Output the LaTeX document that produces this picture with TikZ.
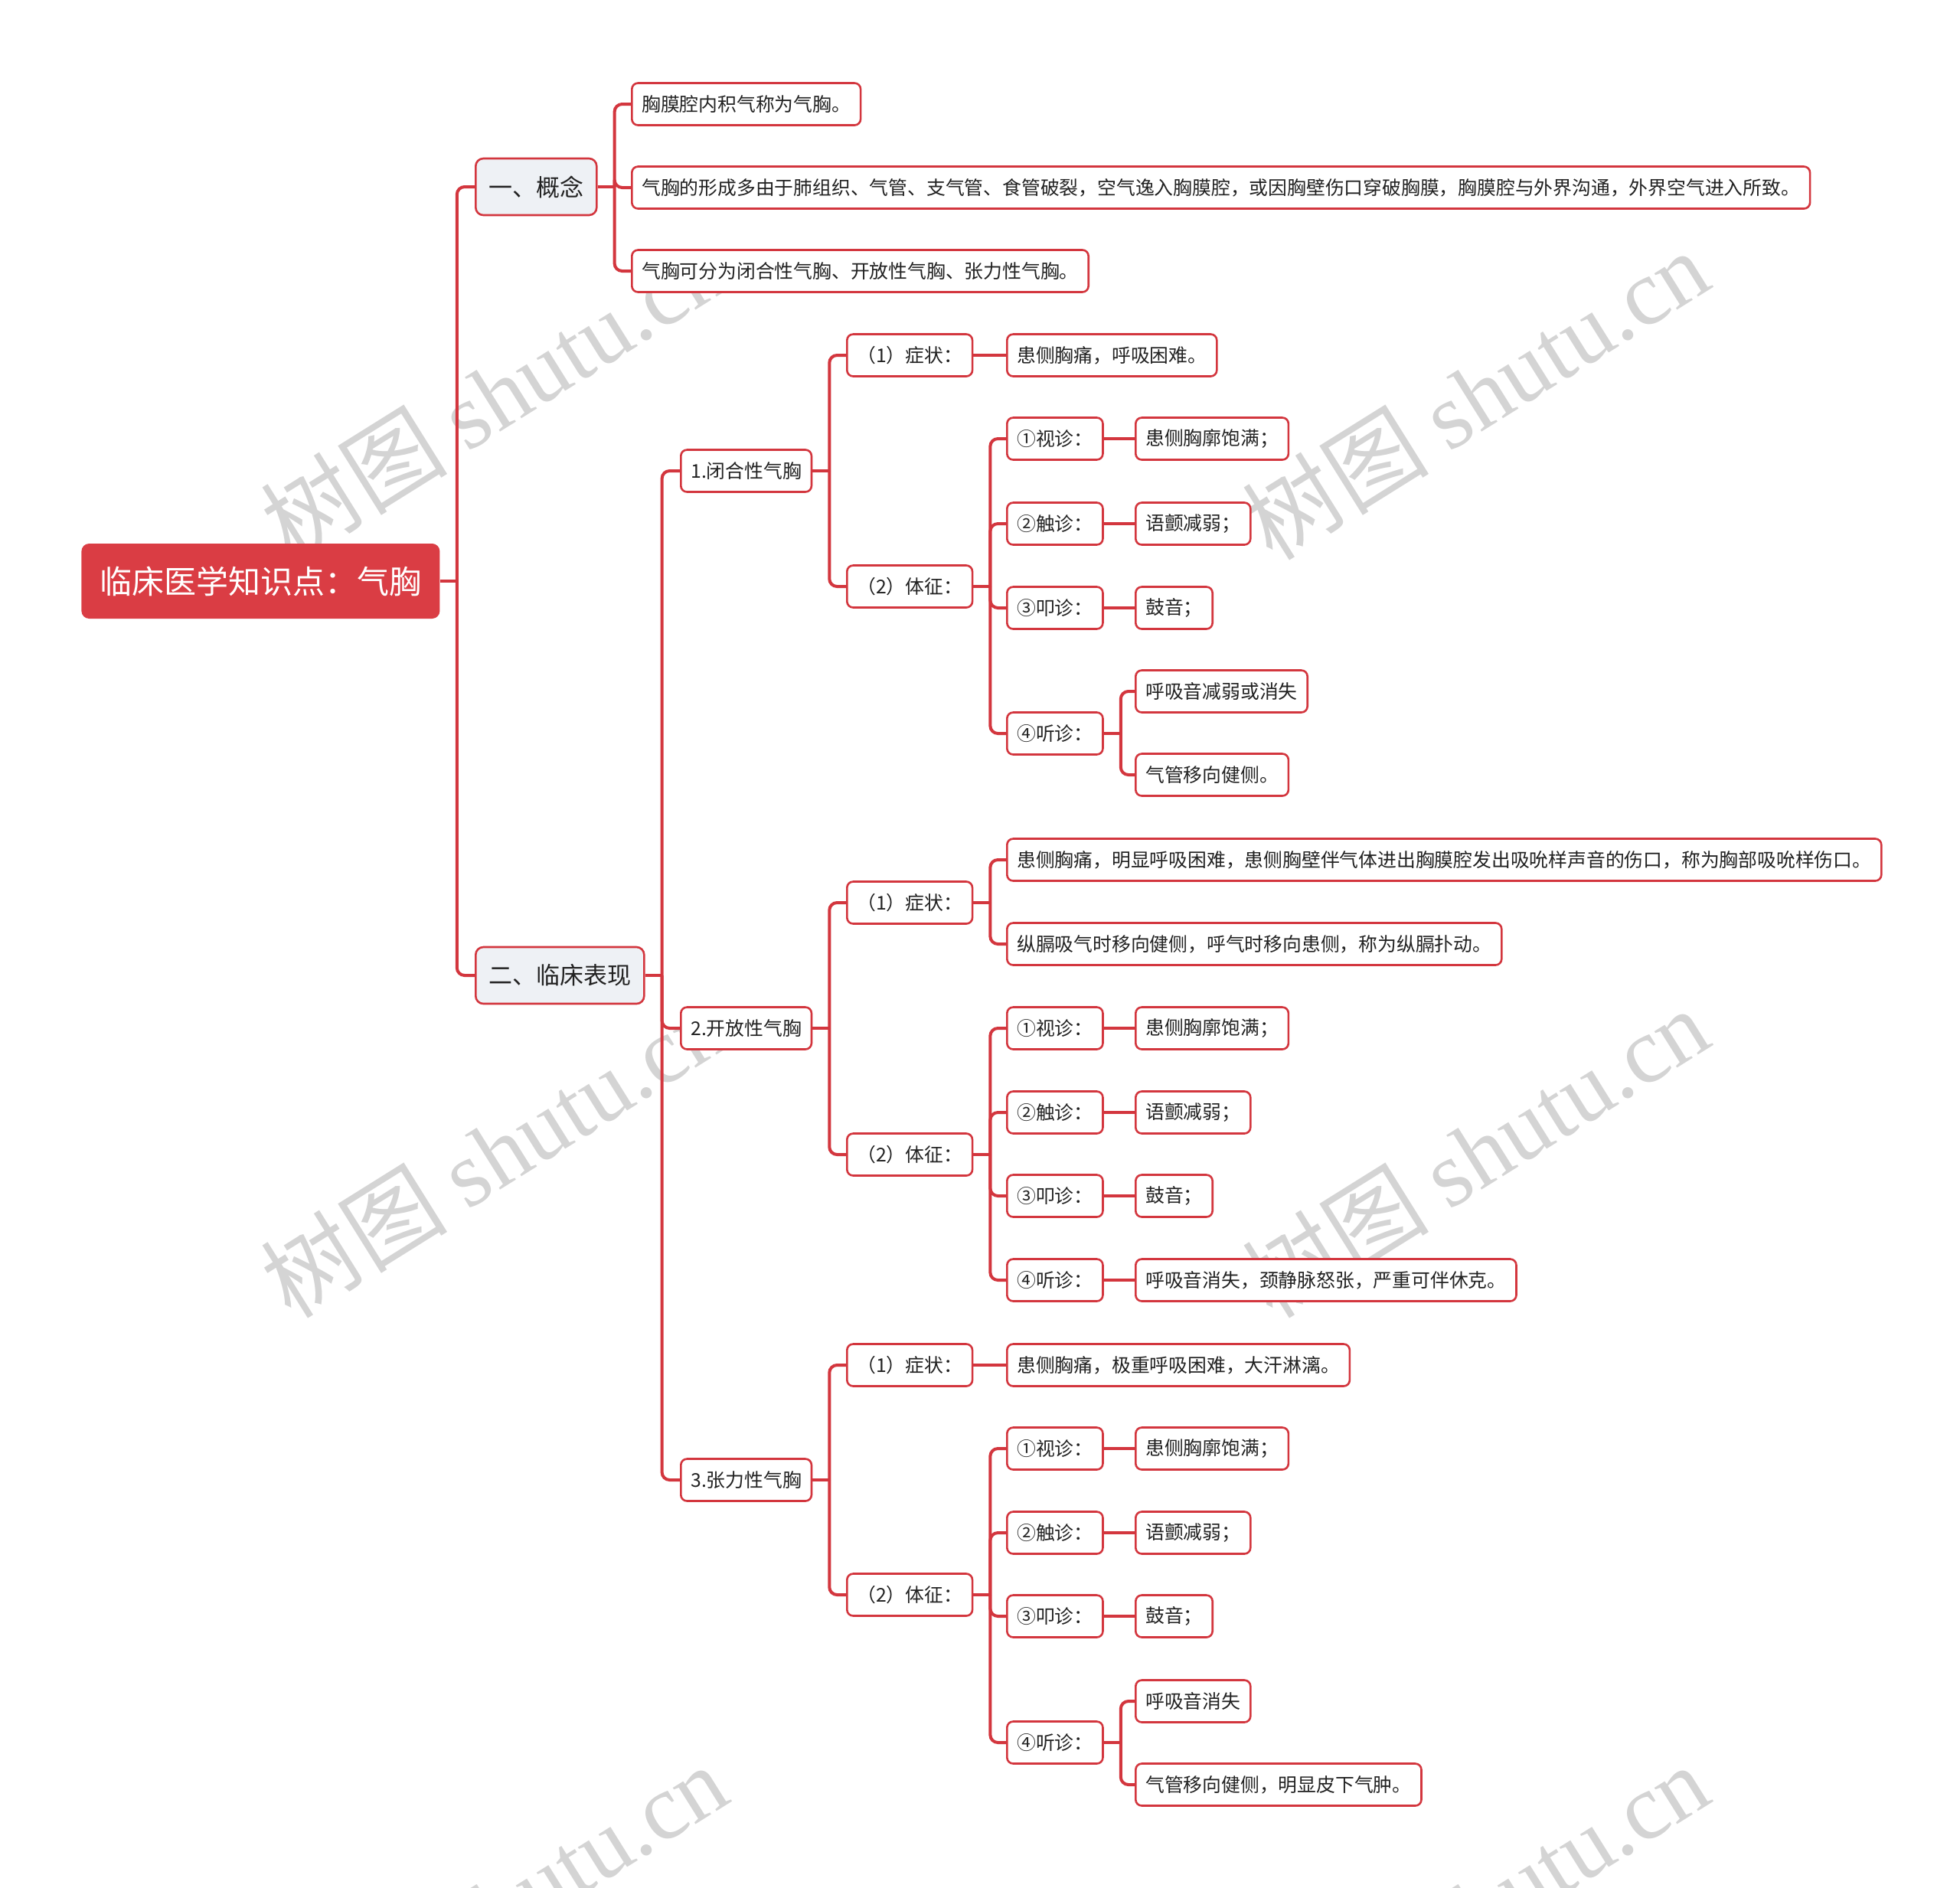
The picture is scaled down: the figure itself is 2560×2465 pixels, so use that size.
\documentclass[tikz,border=0pt]{standalone}
\usepackage{fontspec}
\setmainfont{Noto Sans CJK SC}
\newfontfamily\wmlatin{Liberation Serif}
\usetikzlibrary{positioning,calc}

\definecolor{linered}{HTML}{D3363E}
\definecolor{rootred}{HTML}{DA3D44}
\definecolor{topicfill}{HTML}{EEF1F5}
\definecolor{wmgray}{HTML}{D4D4D4}
\definecolor{txt}{HTML}{222222}

\begin{document}
\begin{tikzpicture}[x=0.5pt,y=-0.5pt,
        rootbox/.style={
            fill=rootred,
            rounded corners=5pt,
            text=white,
            font=\fontsize{21}{25}\selectfont,
            minimum height=49pt,
            inner xsep=12pt,
            anchor=west
        },
        topic/.style={
            draw=linered,
            fill=topicfill,
            line width=1.3pt,
            rounded corners=5pt,
            text=txt,
            font=\fontsize{15.5}{18}\selectfont,
            minimum height=37pt,
            inner xsep=8.5pt,
            anchor=west
        },
        leaf/.style={
            draw=linered,
            fill=white,
            line width=1.3pt,
            rounded corners=4pt,
            text=txt,
            font=\fontsize{12.4}{15}\selectfont,
            minimum height=27.5pt,
            inner xsep=6.5pt,
            anchor=west
        },
        link/.style={
            draw=linered,
            line width=2pt,
            rounded corners=5pt
        },
        wmark/.style={
            text=wmgray,
            rotate=32,
            font=\fontsize{61}{66}\selectfont
        }
    ]

% Canvas
    \useasboundingbox (0,0) rectangle (2560,2465);

% Column x positions
    \def\xA{106}    % root
    \def\xB{620}    % topics
    \def\xC{824}    % concept items
    \def\xCC{888}   % types
    \def\xD{1105}   % symptom / sign
    \def\xE{1314}   % details
    \def\xF{1482}   % findings
    \def\gap{22}    % stub from parent to trunk

% --- Watermark ---
    \begin{scope}
        \clip (0,0) rectangle (2560,2465);
        \foreach \wx/\wy [count=\w] in {645/515,1927/515,645/1505,1927/1505,645/2493,1927/2493}
            \node[wmark] (wm\w) at (\wx,\wy) {树图 {\wmlatin shutu.cn}};
    \end{scope}

% Root and topics
    \node[rootbox] (root) at (\xA,759) {临床医学知识点：气胸};
    \node[topic] (gn) at (\xB,244) {一、概念};
    \node[topic] (lc) at (\xB,1274) {二、临床表现};

% Concept items
    \node[leaf] (gn1) at (\xC,136) {胸膜腔内积气称为气胸。};
    \node[leaf] (gn2) at (\xC,245) {气胸的形成多由于肺组织、气管、支气管、食管破裂，空气逸入胸膜腔，或因胸壁伤口穿破胸膜，胸膜腔与外界沟通，外界空气进入所致。};
    \node[leaf] (gn3) at (\xC,354) {气胸可分为闭合性气胸、开放性气胸、张力性气胸。};

% Types
    \node[leaf] (t1) at (\xCC,615) {1.闭合性气胸};
    \node[leaf] (t2) at (\xCC,1343) {2.开放性气胸};
    \node[leaf] (t3) at (\xCC,1933) {3.张力性气胸};

% Symptom / sign
    \foreach \g/\ys/\yb in {1/464/766,2/1179/1508,3/1783/2083} {
        \node[leaf] (t\g s) at (\xD,\ys) {（1）症状：};
        \node[leaf] (t\g b) at (\xD,\yb) {（2）体征：};
    }

% Symptom texts
    \node[leaf] (t1s1) at (\xE,464) {患侧胸痛，呼吸困难。};
    \node[leaf] (t2s1) at (\xE,1123) {患侧胸痛，明显呼吸困难，患侧胸壁伴气体进出胸膜腔发出吸吮样声音的伤口，称为胸部吸吮样伤口。};
    \node[leaf] (t2s2) at (\xE,1233) {纵膈吸气时移向健侧，呼气时移向患侧，称为纵膈扑动。};
    \node[leaf] (t3s1) at (\xE,1783) {患侧胸痛，极重呼吸困难，大汗淋漓。};

% Signs: inspection, palpation, percussion, auscultation
    \foreach \g/\ya/\yb/\yc/\yd in {1/573/684/794/958,2/1343/1453/1562/1672,3/1892/2002/2111/2276} {
        \node[leaf] (t\g b1) at (\xE,\ya) {①视诊：};
        \node[leaf] (t\g b2) at (\xE,\yb) {②触诊：};
        \node[leaf] (t\g b3) at (\xE,\yc) {③叩诊：};
        \node[leaf] (t\g b4) at (\xE,\yd) {④听诊：};
        \node[leaf] (t\g b1a) at (\xF,\ya) {患侧胸廓饱满；};
        \node[leaf] (t\g b2a) at (\xF,\yb) {语颤减弱；};
        \node[leaf] (t\g b3a) at (\xF,\yc) {鼓音；};
    }

% Auscultation findings
    \node[leaf] (t1b4a) at (\xF,903) {呼吸音减弱或消失};
    \node[leaf] (t1b4b) at (\xF,1012) {气管移向健侧。};
    \node[leaf] (t2b4a) at (\xF,1672) {呼吸音消失，颈静脉怒张，严重可伴休克。};
    \node[leaf] (t3b4a) at (\xF,2222) {呼吸音消失};
    \node[leaf] (t3b4b) at (\xF,2331) {气管移向健侧，明显皮下气肿。};

% --- Connectors: parent -> trunk -> children ---
    \foreach \p/\kids in {root/{gn,lc}, gn/{gn1,gn2,gn3}, lc/{t1,t2,t3},
            t1/{t1s,t1b}, t2/{t2s,t2b}, t3/{t3s,t3b}, t2s/{t2s1,t2s2},
            t1b/{t1b1,t1b2,t1b3,t1b4}, t2b/{t2b1,t2b2,t2b3,t2b4}, t3b/{t3b1,t3b2,t3b3,t3b4},
            t1b4/{t1b4a,t1b4b}, t3b4/{t3b4a,t3b4b}} {
        \coordinate (j\p) at ($(\p.east)+(\gap,0)$);
        \draw[link] (\p.east) -- (j\p);
        \foreach \c in \kids
            \draw[link] (j\p) |- (\c.west);
    }

% single children, straight
    \foreach \p/\c in {t1s/t1s1, t3s/t3s1, t2b4/t2b4a}
        \draw[link] (\p.east) -- (\c.west);
    \foreach \g in {1,2,3}
        \foreach \k in {1,2,3}
            \draw[link] (t\g b\k.east) -- (t\g b\k a.west);

\end{tikzpicture}
\end{document}
